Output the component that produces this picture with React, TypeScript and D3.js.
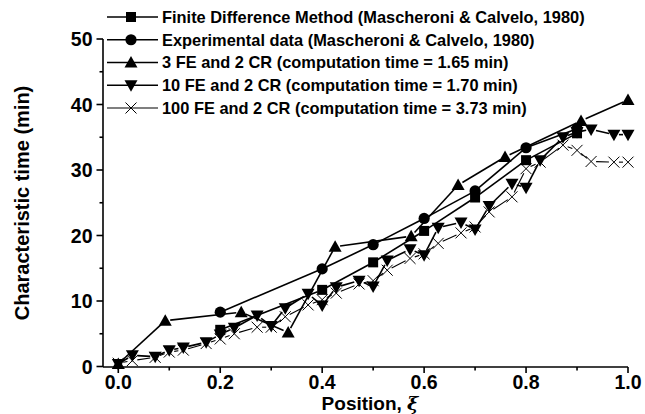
import React from 'react';
import * as d3 from 'd3';

// characteristic time (min) vs. position
const fdX = [0.2, 0.4, 0.5, 0.6, 0.7, 0.8, 0.9];
const fdY = [5.6, 11.7, 15.9, 20.7, 25.8, 31.5, 35.6];

const expX = [0.2, 0.4, 0.5, 0.6, 0.7, 0.8, 0.9];
const expY = [8.3, 14.9, 18.6, 22.6, 26.8, 33.4, 36.3];

const fe3X = [0, 0.0921, 0.2412, 0.3333, 0.4254, 0.5746, 0.6667, 0.7588, 0.9079, 1.0];
const fe3Y = [0.4, 7.0, 8.3, 5.2, 18.3, 19.9, 27.7, 32.0, 37.5, 40.7];

const fe10X = [0, 0.0276, 0.0724, 0.1, 0.1276, 0.1724, 0.2, 0.2276, 0.2724, 0.3, 0.3276, 0.3724, 0.4, 0.4276, 0.4724, 0.5,
  0.5276, 0.5724, 0.6, 0.6276, 0.6724, 0.7, 0.7276, 0.7724, 0.8, 0.8276, 0.8724, 0.9, 0.9276, 0.9724, 1.0];
const fe10Y = [0.4, 1.7, 1.5, 2.5, 2.9, 3.7, 4.9, 5.9, 7.8, 6.2, 8.9, 11.1, 9.3, 12.1, 13.1, 12.2,
  16.2, 17.9, 17.0, 21.2, 22.0, 20.9, 24.5, 27.9, 27.3, 31.5, 35.0, 35.8, 36.2, 35.4, 35.4];

const fe100X = fe10X;
const fe100Y = [0.5, 0.9, 1.4, 2.2, 2.5, 3.5, 4.2, 5.0, 6.0, 6.0, 7.6, 9.4, 10.2, 11.2, 12.6, 13.1,
  14.7, 16.5, 17.2, 18.8, 20.4, 21.3, 23.6, 25.9, 30.2, 31.2, 33.8, 33.0, 31.3, 31.2, 31.2];

const labels = [
  'Finite Difference Method (Mascheroni & Calvelo, 1980)',
  'Experimental data (Mascheroni & Calvelo, 1980)',
  '3 FE and 2 CR (computation time = 1.65 min)',
  '10 FE and 2 CR (computation time = 1.70 min)',
  '100 FE and 2 CR (computation time = 3.73 min)',
];

const xTicks = [0, 0.2, 0.4, 0.6, 0.8, 1.0];
const xMinor = [0.1, 0.3, 0.5, 0.7, 0.9];
const yTicks = [0, 10, 20, 30, 40, 50];
const yMinor = [5, 15, 25, 35, 45];

const font = '"Liberation Sans", Arial, sans-serif';

type Kind = 'square' | 'circle' | 'up' | 'down' | 'x';

const series: { xs: number[]; ys: number[]; kind: Kind; width: number }[] = [
  { xs: fdX, ys: fdY, kind: 'square', width: 1.6 },
  { xs: expX, ys: expY, kind: 'circle', width: 1.6 },
  { xs: fe3X, ys: fe3Y, kind: 'up', width: 1.6 },
  { xs: fe10X, ys: fe10Y, kind: 'down', width: 1.6 },
  { xs: fe100X, ys: fe100Y, kind: 'x', width: 1.1 },
];

function Marker({ kind, x, y }: { kind: Kind; x: number; y: number }) {
  if (kind === 'square') return <rect x={x - 5} y={y - 5} width={10} height={10} fill="#000" />;
  if (kind === 'circle') return <circle cx={x} cy={y} r={5.6} fill="#000" />;
  if (kind === 'up') return <path d={`M${x},${y - 6.5}L${x + 6.5},${y + 5}L${x - 6.5},${y + 5}Z`} fill="#000" />;
  if (kind === 'down') return <path d={`M${x},${y + 6.5}L${x + 6.5},${y - 5}L${x - 6.5},${y - 5}Z`} fill="#000" />;
  return (
    <path d={`M${x - 5.5},${y - 5.5}L${x + 5.5},${y + 5.5}M${x - 5.5},${y + 5.5}L${x + 5.5},${y - 5.5}`}
      stroke="#000" strokeWidth={1} fill="none" />
  );
}

export default function App() {
  const x = d3.scaleLinear().domain([-0.03, 1.0]).range([103, 628]);
  const y = d3.scaleLinear().domain([0, 50]).range([366.5, 39]);
  const gap = 5;

  // line segments between points, with a small gap at each marker
  const segs = (xs: number[], ys: number[]) => {
    const out: string[] = [];
    for (let i = 1; i < xs.length; i++) {
      const x0 = x(xs[i - 1]), y0 = y(ys[i - 1]), x1 = x(xs[i]), y1 = y(ys[i]);
      const len = Math.hypot(x1 - x0, y1 - y0);
      if (len <= 2 * gap) continue;
      const ux = (x1 - x0) / len, uy = (y1 - y0) / len;
      const p = d3.path();
      p.moveTo(x0 + ux * gap, y0 + uy * gap);
      p.lineTo(x1 - ux * gap, y1 - uy * gap);
      out.push(p.toString());
    }
    return out;
  };

  return (
    <svg width={645} height={414} style={{ position: 'absolute', left: 0, top: 0, background: '#fff' }}>
      {/* axes */}
      <g stroke="#000" strokeWidth={1.6} fill="none">
        <line x1={x.range()[0]} x2={x.range()[1]} y1={367} y2={367} />
        <line x1={103} x2={103} y1={y(50)} y2={367} />
        {xTicks.map(t => <line key={'xt' + t} x1={x(t)} x2={x(t)} y1={367} y2={373} />)}
        {xMinor.map(t => <line key={'xm' + t} x1={x(t)} x2={x(t)} y1={367} y2={370.5} />)}
        {yTicks.map(t => <line key={'yt' + t} x1={103} x2={96.5} y1={y(t)} y2={y(t)} />)}
        {yMinor.map(t => <line key={'ym' + t} x1={103} x2={99.5} y1={y(t)} y2={y(t)} />)}
      </g>
      <g fontFamily={font} fontWeight="bold" fontSize={19.5} fill="#000">
        {xTicks.map(t => (
          <text key={'xl' + t} x={x(t)} y={388.5} textAnchor="middle">{d3.format('.1f')(t)}</text>
        ))}
        {yTicks.map(t => (
          <text key={'yl' + t} x={92.5} y={y(t)} dy="0.36em" textAnchor="end">{t}</text>
        ))}
      </g>
      <text x={370} y={409.5} textAnchor="middle" fontFamily={font} fontWeight="bold" fontSize={19}>
        Position, <tspan fontStyle="italic" fontFamily="'DejaVu Serif', serif">ξ</tspan>
      </text>
      <text transform="translate(29,203) rotate(-90)" textAnchor="middle" fontFamily={font} fontWeight="bold" fontSize={20}>
        Characteristic time (min)
      </text>

      {/* data */}
      {series.map((s, i) => (
        <g key={'s' + i}>
          {segs(s.xs, s.ys).map((d, j) => (
            <path key={j} d={d} stroke="#000" strokeWidth={s.width} fill="none" />
          ))}
          {s.xs.map((v, j) => <Marker key={j} kind={s.kind} x={x(v)} y={y(s.ys[j])} />)}
        </g>
      ))}

      {/* legend */}
      {series.map((s, i) => {
        const ly = 17 + i * 22.75;
        return (
          <g key={'lg' + i}>
            <line x1={107} x2={158} y1={ly} y2={ly} stroke="#000" strokeWidth={s.width} />
            <Marker kind={s.kind} x={131} y={ly} />
            <text x={162} y={ly} dy="0.36em" fontFamily={font} fontWeight="bold" fontSize={16.4}>{labels[i]}</text>
          </g>
        );
      })}
    </svg>
  );
}
